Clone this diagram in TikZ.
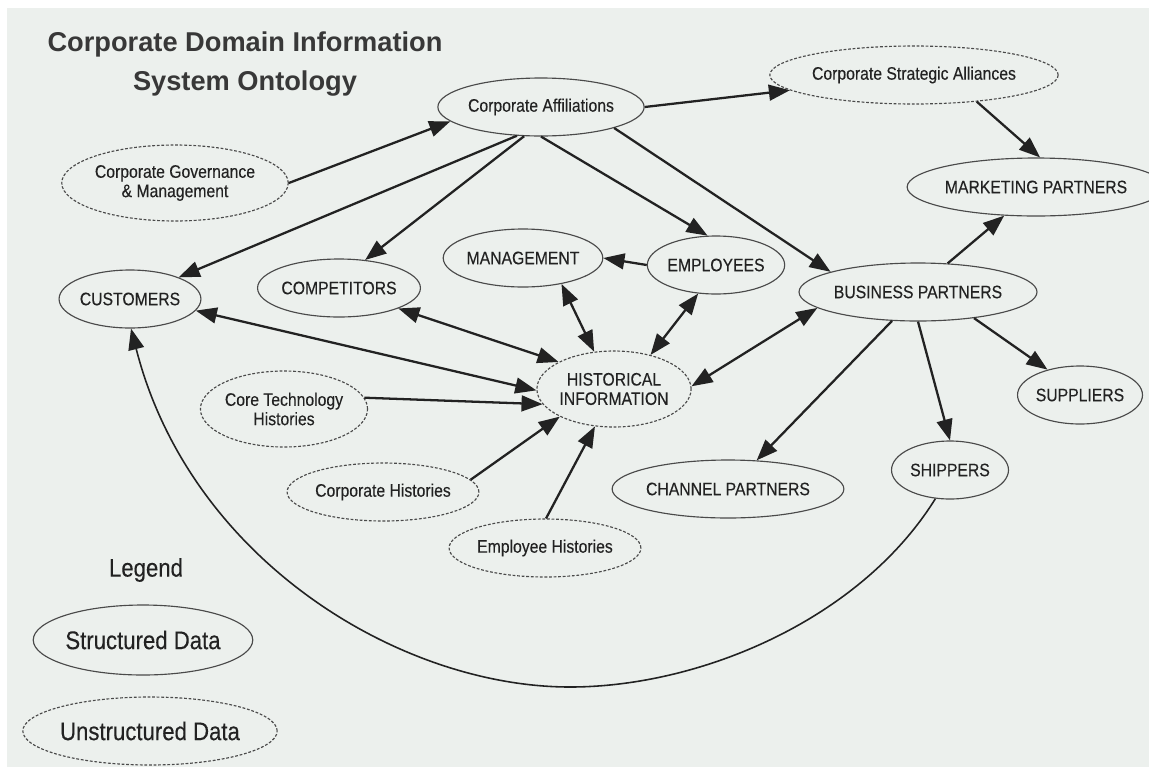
\documentclass[tikz,border=0pt]{standalone}
\usepackage{fontspec}
\setmainfont{Liberation Sans}
\newfontfamily\narrowsf[FakeStretch=0.87,FakeBold=0.25]{Liberation Sans}
\usetikzlibrary{shapes.geometric,arrows.meta}

\definecolor{paper}{HTML}{ECF0ED}
\definecolor{ink}{HTML}{222222}
\definecolor{rim}{HTML}{4A4A4A}

\tikzset{
  box/.style={ellipse, draw=rim, line width=0.65pt, inner sep=0pt, text=ink,
    font=\narrowsf\fontsize{10.3}{11}\selectfont, align=center, minimum height=1.16cm},
  solidbox/.style={box},
  dashbox/.style={box, dash pattern=on 1.6pt off 1pt},
  tall/.style={minimum height=1.52cm},
  legendbox/.style={font=\narrowsf\fontsize{14.5}{16}\selectfont},
  link/.style={draw=ink, line width=1.3pt, -{Triangle[length=12pt,width=9pt]}},
  twoway/.style={link, {Triangle[length=12pt,width=9pt]}-{Triangle[length=12pt,width=9pt]}},
}

\begin{document}
\begin{tikzpicture}[x=0.02cm, y=-0.02cm]
    % paper
    \fill[white] (0,0) rectangle (1149,778);
    \fill[paper] (7,8) rectangle (1149,767);
    \useasboundingbox (0,0) rectangle (1149,778);

    \node[font=\bfseries\fontsize{15.5}{22.7}\selectfont, text=ink!90, align=center,
      anchor=north, inner sep=0pt] (title) at (245,31) {Corporate Domain Information\\System Ontology};

    % top row
    \node[dashbox, minimum width=4.88cm] (alliances) at (914,75) {Corporate Strategic Alliances};
    \node[solidbox, minimum width=3.72cm] (affiliations) at (541,107) {Corporate Affiliations};
    \node[dashbox, tall, minimum width=3.96cm] (governance) at (175,183) {Corporate Governance\\\& Management};
    \node[solidbox, minimum width=4cm] (marketing) at (1036,187) {MARKETING PARTNERS};

    % middle
    \node[solidbox, minimum width=3.06cm] (management) at (523,258) {MANAGEMENT};
    \node[solidbox, minimum width=2.7cm] (employees) at (716,265) {EMPLOYEES};
    \node[solidbox, minimum width=2.76cm] (customers) at (130,299) {CUSTOMERS};
    \node[solidbox, minimum width=3.06cm] (competitors) at (339,288) {COMPETITORS};
    \node[solidbox, minimum width=4.12cm] (business) at (918,292) {BUSINESS PARTNERS};
    \node[dashbox, tall, minimum width=2.96cm] (history) at (614,389) {HISTORICAL\\INFORMATION};
    \node[dashbox, tall, minimum width=3.14cm] (coretech) at (284,409) {Core Technology\\Histories};
    \node[solidbox, minimum width=2.5cm] (suppliers) at (1080,395) {SUPPLIERS};

    % bottom
    \node[solidbox, minimum width=2.34cm] (shippers) at (950,470) {SHIPPERS};
    \node[solidbox, minimum width=4.08cm] (channel) at (728,489) {CHANNEL PARTNERS};
    \node[dashbox, minimum width=3.46cm] (corphist) at (383,492) {Corporate Histories};
    \node[dashbox, minimum width=3.48cm] (emphist) at (545,548) {Employee Histories};

    % legend
    \node[text=ink, legendbox] (legend) at (146,570) {Legend};
    \node[solidbox, legendbox, minimum width=4.06cm, minimum height=1.4cm] (structured) at (143,640) {Structured Data};
    \node[dashbox, legendbox, minimum width=4.6cm, minimum height=1.36cm] (unstructured) at (150,731) {Unstructured Data};

    % links
    \draw[link] (governance.0) -- (affiliations.189);
    \draw[link] (affiliations.0) -- (alliances.187);
    \draw[link] (alliances.337) -- (marketing.82);
    \draw[link] (affiliations.230) -- (customers.24);
    \draw[link] (affiliations.240) -- (competitors.47);
    \draw[link] (affiliations.270) -- (employees.106);
    \draw[link] (affiliations.344) -- (business.167);
    \draw[link] (employees.180) -- (management.0);
    \draw[twoway] (management.326) -- (history.118);
    \draw[twoway] (employees.238) -- (history.43);
    \draw[twoway] (competitors.341) -- (history.154);
    \draw[twoway] (customers.350) -- (history.181);
    \draw[twoway] (business.189) -- (history.2);
    \draw[link] (coretech.8) -- (history.192);
    \draw[link] (corphist.8) -- (history.207);
    \draw[link] (emphist.88) -- (history.243);
    \draw[link] (business.44) -- (marketing.222);
    \draw[link] (business.228) -- (channel.45);
    \draw[link] (business.270) -- (shippers.90);
    \draw[link] (business.335) -- (suppliers.142);

    % long way back to the customers
    \coordinate (dip) at (570,687);
    \draw[link, line width=0.9pt] (shippers.243) .. controls (860,620) and (700,687) .. (dip)
      .. controls (400,687) and (190,560) .. (customers.272);
\end{tikzpicture}
\end{document}
